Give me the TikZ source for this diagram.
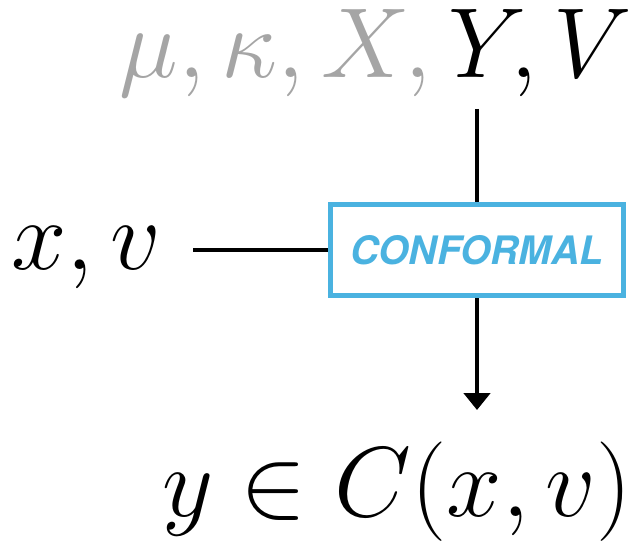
\documentclass[tikz,border=0pt]{standalone}
\usepackage{fontspec}
\newfontfamily\heros{TeX Gyre Heros}
\usetikzlibrary{arrows.meta}
\definecolor{confblue}{RGB}{74,178,224}
\definecolor{paramgray}{RGB}{165,165,165}
\begin{document}
\begin{tikzpicture}[x=0.25pt,y=-0.25pt,line cap=butt,line join=miter,>={Triangle[width=6.5pt,length=4.2pt]},
	lbl/.style={inner sep=0pt,font=\fontsize{23.6}{28}\selectfont},
	confbox/.style={draw=confblue,line width=1.2pt,minimum width=73.25pt,minimum height=22.9pt,inner sep=0pt,
		text=confblue,font=\heros\bfseries\itshape\fontsize{9.8}{12}\selectfont},
	link/.style={line width=1pt}]
	\useasboundingbox (0,0) rectangle (630,542);
	\node[lbl,anchor=base] (params) at (376,78) {$\color{paramgray}\mu, \kappa, X, \color{black}Y, V$};
	\node[confbox] (conf) at (477,250) {CONFORMAL};
	\node[lbl,anchor=base east] (xv) at (162,270) {$x, v$};
	\node[lbl,anchor=base] (out) at (397,517) {$y \in C(x, v)$};
	\coordinate (ytop) at (477,109);
	\coordinate (xend) at (193,250);
	\coordinate (ybot) at (477,410);
	\draw[link] (ytop)--(conf.north);
	\draw[link] (xend)--(conf.west);
	\draw[link,->] (conf.south)--(ybot);
\end{tikzpicture}
\end{document}
